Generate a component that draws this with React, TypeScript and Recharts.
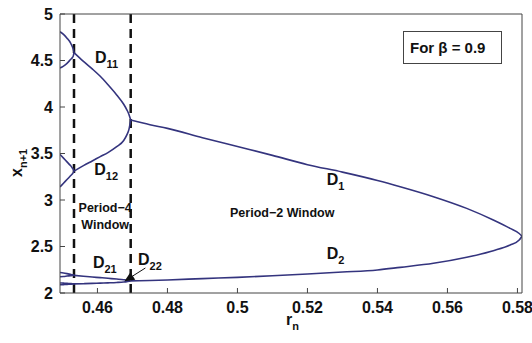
import React from 'react';
import { LineChart, Line, XAxis, YAxis, ReferenceLine, ReferenceDot, Label } from 'recharts';

// period-2 window (D1 upper, D2 lower)
const rP2 = [0.4695, 0.475, 0.48, 0.49, 0.5, 0.51, 0.52, 0.53, 0.54, 0.5465, 0.556, 0.5655, 0.5731, 0.5779, 0.5805, 0.5813];
const d1 = [3.86, 3.81, 3.77, 3.67, 3.575, 3.48, 3.38, 3.3, 3.21, 3.143, 3.036, 2.91, 2.785, 2.695, 2.64, 2.61];
const d2 = [2.13, 2.135, 2.14, 2.155, 2.168, 2.185, 2.204, 2.225, 2.248, 2.276, 2.319, 2.384, 2.455, 2.516, 2.57, 2.61];

// period-4 window
const rP4 = [0.4533, 0.456, 0.4585, 0.4608, 0.463, 0.4655, 0.4675, 0.4684, 0.469, 0.4695];
const d11 = [4.584, 4.49, 4.41, 4.33, 4.24, 4.13, 4.03, 3.97, 3.92, 3.86];
const d12 = [3.31, 3.37, 3.42, 3.466, 3.51, 3.573, 3.64, 3.7, 3.76, 3.86];
const d21 = [2.19, 2.18, 2.172, 2.165, 2.158, 2.15, 2.143, 2.139, 2.135, 2.13];
const d22 = [2.098, 2.1, 2.103, 2.106, 2.109, 2.113, 2.118, 2.122, 2.126, 2.13];

// period-8 (left of first dashed line)
const rP8 = [0.4493, 0.4503, 0.4513, 0.4523, 0.4528, 0.4531, 0.4533];
const d111 = [4.81, 4.78, 4.74, 4.69, 4.65, 4.62, 4.584];
const d112 = [4.42, 4.44, 4.47, 4.51, 4.53, 4.55, 4.584];
const d121 = [3.49, 3.45, 3.41, 3.37, 3.345, 3.33, 3.31];
const d122 = [3.14, 3.18, 3.22, 3.26, 3.28, 3.295, 3.31];
const d211 = [2.22, 2.215, 2.208, 2.2, 2.196, 2.193, 2.19];
const d212 = [2.175, 2.178, 2.182, 2.186, 2.188, 2.189, 2.19];
const d221 = [2.108, 2.106, 2.104, 2.101, 2.1, 2.099, 2.098];
const d222 = [2.088, 2.09, 2.092, 2.095, 2.096, 2.097, 2.098];

const xTicks = [0.46, 0.48, 0.5, 0.52, 0.54, 0.56, 0.58];
const yTicks = [2, 2.5, 3, 3.5, 4, 4.5, 5];
const windowLines = [0.4533, 0.4695];

const toPts = (rs: number[], vs: number[]) => rs.map((r, i) => ({ r, v: vs[i] }));

const branches = [
  toPts(rP2, d1), toPts(rP2, d2),
  toPts(rP4, d11), toPts(rP4, d12), toPts(rP4, d21), toPts(rP4, d22),
  toPts(rP8, d111), toPts(rP8, d112), toPts(rP8, d121), toPts(rP8, d122),
  toPts(rP8, d211), toPts(rP8, d212), toPts(rP8, d221), toPts(rP8, d222),
];

const FONT = "'Liberation Sans Narrow', 'Liberation Sans', Arial, sans-serif";
const LINE = '#34347e';
const AXIS = '#444';

const subText = (main: string, sub: string) => (p: any) => (
  <text x={p.cx} y={p.cy} fontFamily={FONT} fontWeight="bold" fontSize={16} fill="#111">
    {main}
    <tspan dy={5} fontSize={11}>{sub}</tspan>
  </text>
);

const plainText = (lines: string[]) => (p: any) => (
  <text x={p.cx} y={p.cy} fontFamily={FONT} fontWeight="bold" fontSize={12.5} fill="#111" textAnchor="middle">
    {lines.map((l, i) => (
      <tspan key={i} x={p.cx} dy={i === 0 ? 0 : 16.5}>{l}</tspan>
    ))}
  </text>
);

const arrow = (p: any) => {
  const { x1, y1, x2, y2 } = p;
  const a = Math.atan2(y2 - y1, x2 - x1);
  const len = 10;
  const w = 4.5;
  const bx = x2 - len * Math.cos(a);
  const by = y2 - len * Math.sin(a);
  const nx = -Math.sin(a) * w;
  const ny = Math.cos(a) * w;
  return (
    <g>
      <line x1={x1} y1={y1} x2={bx} y2={by} stroke="#111" strokeWidth={1} />
      <polygon points={`${x2},${y2} ${bx + nx},${by + ny} ${bx - nx},${by - ny}`} fill="#111" />
    </g>
  );
};

const tickStyle = { fontFamily: FONT, fontWeight: 'bold', fontSize: 16, fill: '#111' } as any;

const labels = [
  { r: 0.4593, v: 4.473, f: subText('D', '11') },
  { r: 0.4591, v: 3.269, f: subText('D', '12') },
  { r: 0.5255, v: 3.161, f: subText('D', '1') },
  { r: 0.5255, v: 2.366, f: subText('D', '2') },
  { r: 0.4587, v: 2.269, f: subText('D', '21') },
  { r: 0.4716, v: 2.301, f: subText('D', '22') },
  { r: 0.5128, v: 2.817, f: plainText(['Period\u22122 Window']) },
  { r: 0.4622, v: 2.866, f: plainText(['Period\u22124', 'Window']) },
];

export default function App() {
  return (
    <div style={{ position: 'fixed', left: 0, top: 0, width: 532, height: 343, background: '#fff' }}>
      <LineChart width={532} height={343} margin={{ top: 10, right: 0, bottom: 20, left: 10 }}>
        <XAxis
          type="number"
          dataKey="r"
          domain={[0.4493, 0.5813]}
          allowDataOverflow
          ticks={xTicks}
          tickSize={-5}
          tickMargin={14}
          tick={tickStyle}
          stroke={AXIS}
          height={30}
        >
          <Label
            content={({ viewBox }: any) => (
              <text x={viewBox.x + viewBox.width / 2 - 5} y={viewBox.y + 32} fontFamily={FONT} fontWeight="bold" fontSize={16} fill="#111">
                r<tspan dy={5} fontSize={11}>n</tspan>
              </text>
            )}
          />
        </XAxis>
        <XAxis
          xAxisId="top"
          orientation="top"
          type="number"
          dataKey="r"
          domain={[0.4493, 0.5813]}
          allowDataOverflow
          ticks={xTicks}
          tickSize={-5}
          tick={false}
          stroke={AXIS}
          height={4}
        />
        <YAxis
          type="number"
          domain={[2, 5]}
          allowDataOverflow
          ticks={yTicks}
          tickSize={-5}
          tickMargin={12}
          tick={tickStyle}
          stroke={AXIS}
          width={50}
        >
          <Label
            content={() => (
              <text x={22} y={177} transform="rotate(-90 22 177)" fontFamily={FONT} fontWeight="bold" fontSize={16} fill="#111">
                x<tspan dy={5} fontSize={11}>n+1</tspan>
              </text>
            )}
          />
        </YAxis>
        <YAxis
          yAxisId="right"
          orientation="right"
          type="number"
          domain={[2, 5]}
          allowDataOverflow
          ticks={yTicks}
          tickSize={-5}
          tick={false}
          stroke={AXIS}
          width={10}
        />
        {windowLines.map((x) => (
          <ReferenceLine key={x} x={x} stroke="#111" strokeWidth={2.5} strokeDasharray="9 6" />
        ))}
        {branches.map((pts, i) => (
          <Line
            key={i}
            data={pts}
            dataKey="v"
            type="monotone"
            stroke={LINE}
            strokeWidth={1.6}
            dot={false}
            activeDot={false}
            isAnimationActive={false}
          />
        ))}
        <ReferenceLine
          segment={[{ x: 0.4737, y: 2.269 }, { x: 0.4677, y: 2.126 }]}
          shape={arrow}
        />
        {labels.map((l, i) => (
          <ReferenceDot key={i} x={l.r} y={l.v} r={0} shape={l.f} />
        ))}
      </LineChart>
      <div
        style={{
          position: 'absolute',
          left: 403,
          top: 31,
          width: 99,
          height: 33,
          boxSizing: 'border-box',
          border: '1px solid #444',
          background: '#fff',
          fontFamily: FONT,
          fontWeight: 'bold',
          fontSize: 15,
          color: '#111',
          lineHeight: '31px',
          paddingLeft: 6,
        }}
      >
        For β = 0.9
      </div>
    </div>
  );
}
